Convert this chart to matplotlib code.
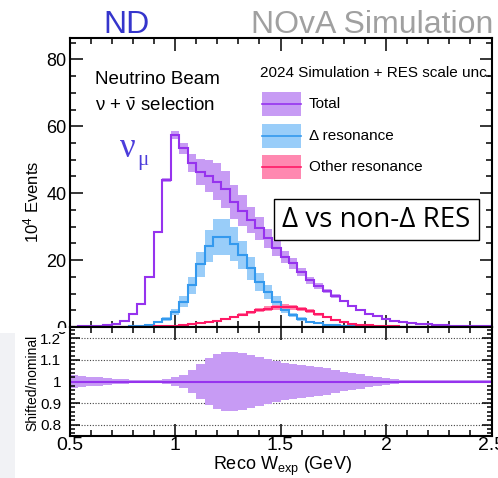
import numpy as np
import matplotlib
matplotlib.use("Agg")
import matplotlib.pyplot as plt
from matplotlib.patches import Rectangle
from matplotlib.lines import Line2D
from matplotlib.ticker import MultipleLocator, FixedLocator, FixedFormatter

plt.rcParams["font.family"] = ["Liberation Sans", "DejaVu Sans"]
plt.rcParams["mathtext.fontset"] = "custom"
plt.rcParams["mathtext.rm"] = "Liberation Sans"
plt.rcParams["mathtext.it"] = "Liberation Sans:italic"
plt.rcParams["mathtext.bf"] = "Liberation Sans:bold"

# ---- binning: reconstructed hadronic invariant mass, 0.04 GeV bins ----
w_min = 0.5
bin_width = 0.04
n_bins = 50

# ---- event counts (units of 10^4) ----
total = [0.1, 0.15, 0.2, 0.3, 0.5, 1.0, 1.8, 4.0, 7.0, 15.0,
         28.4, 43.9, 57.4, 53.4, 48.9, 46.4, 45.1, 43.4, 41.2, 37.4,
         34.8, 32.0, 29.5, 26.5, 23.5, 21.0, 19.0, 16.5, 14.0, 12.3,
         10.8, 9.3, 7.8, 6.3, 5.0, 4.0, 3.2, 2.5, 1.9, 1.5,
         1.2, 1.0, 0.8, 0.6, 0.5, 0.4, 0.3, 0.25, 0.2, 0.15]

delta_res = [0.0, 0.0, 0.0, 0.0, 0.01, 0.02, 0.05, 0.15, 0.3, 0.6,
             1.4, 2.4, 4.6, 7.6, 12.5, 18.8, 24.2, 27.0, 27.0, 24.8,
             21.5, 17.5, 13.5, 10.5, 7.6, 5.1, 3.6, 2.4, 1.6, 1.1,
             0.7, 0.45, 0.3, 0.2, 0.12, 0.08, 0.05, 0.03, 0.02, 0.02,
             0.01, 0.01, 0.01, 0.0, 0.0, 0.0, 0.0, 0.0, 0.0, 0.0]

other_res = [0.05, 0.05, 0.05, 0.05, 0.05, 0.05, 0.05, 0.05, 0.05, 0.1,
             0.15, 0.25, 0.4, 0.6, 0.85, 1.1, 1.5, 1.9, 2.4, 3.0,
             3.7, 4.4, 5.0, 5.5, 5.9, 6.1, 5.9, 5.4, 4.7, 3.8,
             2.9, 2.1, 1.5, 1.0, 0.7, 0.5, 0.35, 0.25, 0.18, 0.12,
             0.1, 0.08, 0.06, 0.05, 0.04, 0.03, 0.03, 0.02, 0.02, 0.02]

# half-width of the shifted/nominal band for the total
ratio_halfwidth = [0.031, 0.027, 0.023, 0.020, 0.016, 0.013, 0.010, 0.009, 0.008, 0.007,
                   0.007, 0.012, 0.019, 0.031, 0.055, 0.082, 0.108, 0.127, 0.135, 0.137,
                   0.133, 0.125, 0.114, 0.105, 0.095, 0.088, 0.082, 0.077, 0.074, 0.069,
                   0.062, 0.054, 0.046, 0.038, 0.034, 0.026, 0.020, 0.015, 0.012, 0.009,
                   0.008, 0.007, 0.007, 0.006, 0.006, 0.006, 0.005, 0.005, 0.005, 0.005]

delta_frac_unc = 0.20
other_frac_unc = 0.12

x_ticks = [0.5, 1.0, 1.5, 2.0, 2.5]
x_tick_labels = ["0.5", "1", "1.5", "2", "2.5"]
ratio_ticks = [0.8, 0.9, 1.0, 1.1, 1.2]
ratio_tick_labels = ["0.8", "0.9", "1", "1.1", "1.2"]
legend_labels = ["Total", "\u0394 resonance", "Other resonance"]

# ---- colours ----
c_total, c_total_band = "#9633ee", "#c79bf4"
c_delta, c_delta_band = "#3399ee", "#99cdf9"
c_other, c_other_band = "#ff1a66", "#ff88b0"

W, H = 498, 478
fig = plt.figure(figsize=(W / 100, H / 100), dpi=100)


def fx(px):
    return px / W


def fy(py):
    return 1 - py / H


edges = w_min + bin_width * np.arange(n_bins + 1)
left = edges[:-1]
total_a = np.array(total)
delta_a = np.array(delta_res)
other_a = np.array(other_res)
ratio_a = np.array(ratio_halfwidth)

ax_l, ax_r = 69.5, 491.5
ax_top = fig.add_axes([fx(ax_l), fy(327), fx(ax_r - ax_l), (327 - 38) / H])
ax_rat = fig.add_axes([fx(ax_l), fy(436), fx(ax_r - ax_l), (436 - 327) / H])


def band(ax, lo, hi, color, z):
    ax.bar(left, hi - lo, bottom=lo, width=bin_width, align="edge",
           color=color, linewidth=0, zorder=z)


# ---- upper panel ----
band(ax_top, total_a * (1 - ratio_a), total_a * (1 + ratio_a), c_total_band, 1.0)
band(ax_top, delta_a * (1 - delta_frac_unc), delta_a * (1 + delta_frac_unc), c_delta_band, 1.1)
band(ax_top, other_a * (1 - other_frac_unc), other_a * (1 + other_frac_unc), c_other_band, 1.2)
ax_top.stairs(total_a, edges, color=c_total, lw=1.5, baseline=None, zorder=2.0)
ax_top.stairs(delta_a, edges, color=c_delta, lw=1.5, baseline=None, zorder=2.1)
ax_top.stairs(other_a, edges, color=c_other, lw=1.5, baseline=None, zorder=2.2)

ax_top.set_xlim(0.5, 2.5)
ax_top.set_ylim(0, 86.4)
ax_top.xaxis.set_major_locator(FixedLocator(x_ticks))
ax_top.xaxis.set_minor_locator(MultipleLocator(0.1))
ax_top.yaxis.set_major_locator(MultipleLocator(20))
ax_top.yaxis.set_minor_locator(MultipleLocator(5))
ax_top.tick_params(which="both", direction="in", top=True, right=True,
                   labelbottom=False, width=1.1)
ax_top.tick_params(which="major", length=9)
ax_top.tick_params(which="minor", length=4.5)
ax_top.tick_params(axis="y", labelsize=13, pad=2)

# ---- ratio panel ----
for yv in [0.8, 0.9, 1.1, 1.2]:
    ax_rat.axhline(yv, color="#444444", lw=0.8, ls=(0, (1, 1.5)), zorder=0.5)
band(ax_rat, 1 - ratio_a, 1 + ratio_a, c_total_band, 1.0)
ax_rat.axhline(1.0, color=c_total, lw=1.5, zorder=2)
ax_rat.set_xlim(0.5, 2.5)
ax_rat.set_ylim(0.747, 1.253)
ax_rat.xaxis.set_major_locator(FixedLocator(x_ticks))
ax_rat.xaxis.set_major_formatter(FixedFormatter(x_tick_labels))
ax_rat.xaxis.set_minor_locator(MultipleLocator(0.1))
ax_rat.yaxis.set_major_locator(FixedLocator(ratio_ticks))
ax_rat.yaxis.set_major_formatter(FixedFormatter(ratio_tick_labels))
ax_rat.yaxis.set_minor_locator(MultipleLocator(0.02))
ax_rat.tick_params(which="both", direction="in", top=True, right=True, width=1.1)
ax_rat.tick_params(axis="x", which="major", length=9, labelsize=14, pad=1)
ax_rat.tick_params(axis="x", which="minor", length=4.5)
ax_rat.tick_params(axis="y", which="major", length=7, labelsize=11, pad=6)
ax_rat.tick_params(axis="y", which="minor", length=3.5)

for ax in (ax_top, ax_rat):
    for s in ax.spines.values():
        s.set_linewidth(1.5)

# ---- axis titles ----
fig.text(fx(31), fy(202), "10$^{4}$ Events", rotation=90, ha="center", va="center", fontsize=12)
fig.text(fx(32), fy(383), "Shifted/nominal", rotation=90, ha="center", va="center", fontsize=10)
fig.text(fx(282), fy(470), "Reco W$_{\\mathrm{exp}}$ (GeV)", ha="center", va="baseline", fontsize=13)

# ---- header ----
fig.text(fx(126), fy(33), "ND", color="#3535cc", fontsize=23, ha="center", va="baseline")
fig.text(fx(493), fy(33), "NOvA Simulation", color="#a0a0a0", fontsize=23, ha="right", va="baseline")

# ---- annotations inside the upper panel ----
fig.text(fx(95), fy(80), "Neutrino Beam", fontsize=13.5, ha="left", va="center")
fig.text(fx(95), fy(106), r"$\mathrm{\nu}$ + $\bar{\mathrm{\nu}}$ selection",
         fontsize=13.5, ha="left", va="center")
fig.text(fx(120), fy(157), "\u03bd", color="#4c3ddb", fontsize=25,
         family=["Liberation Serif", "DejaVu Serif"], ha="left", va="baseline")
fig.text(fx(137), fy(160), "\u03bc", color="#4c3ddb", fontsize=15,
         family=["Liberation Serif", "DejaVu Serif"], ha="left", va="center")

# legend
fig.text(fx(260), fy(73), "2024 Simulation + RES scale unc.", fontsize=11, ha="left", va="center")
legend_rows = [(c_total_band, c_total, 104), (c_delta_band, c_delta, 136), (c_other_band, c_other, 167)]
for (bc, lc, yc), lab in zip(legend_rows, legend_labels):
    fig.add_artist(Rectangle((fx(262), fy(yc + 11.5)), fx(39), 23 / H,
                             transform=fig.transFigure, color=bc, lw=0, zorder=3))
    fig.add_artist(Line2D([fx(262), fx(301)], [fy(yc), fy(yc)],
                          transform=fig.transFigure, color=lc, lw=1.2, zorder=4))
    fig.text(fx(309), fy(yc), lab, fontsize=11, ha="left", va="center")

# boxed caption
fig.add_artist(Rectangle((fx(274), fy(240)), fx(205), 41 / H, transform=fig.transFigure,
                         facecolor="white", edgecolor="black", lw=1.0, zorder=3))
fig.text(fx(376.5), fy(220), "\u0394 vs non-\u0394 RES", fontsize=20,
         family=["Open Sans", "DejaVu Sans"], ha="center", va="center", zorder=4)

# lower half of the upper panel's "0" is hidden behind the ratio pad
fig.add_artist(Rectangle((fx(38), fy(332)), fx(29), 4.5 / H, transform=fig.transFigure,
                         facecolor="white", lw=0, zorder=3))

# slide background strip at the lower left
fig.add_artist(Rectangle((0, 0), fx(15), fy(333), transform=fig.transFigure,
                         facecolor="#f1f2f5", lw=0, zorder=0))

fig.savefig("out.png", dpi=100)
